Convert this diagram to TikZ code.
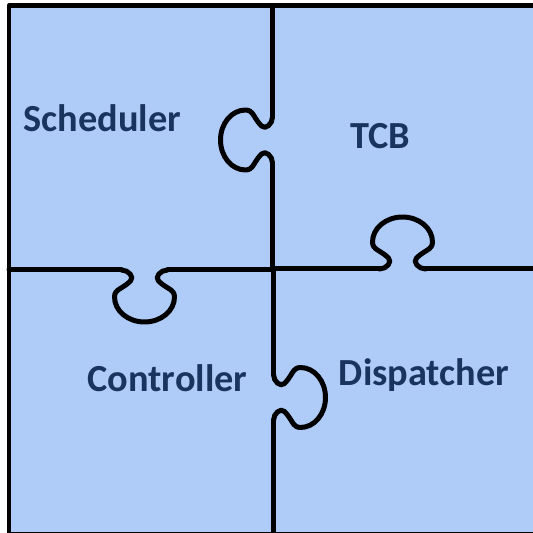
\documentclass[tikz,border=0pt]{standalone}
\usepackage{fontspec}
\setmainfont{Carlito}

\definecolor{piecefill}{RGB}{175,203,247}
\definecolor{labelblue}{RGB}{26,52,96}

\begin{document}
\begin{tikzpicture}[
          x=0.1mm, y=0.1mm,
          puzzleline/.style={line width=0.5mm, line cap=round, line join=round},
          label/.style={font=\bfseries\fontsize{10.9}{12}\selectfont, text=labelblue},
          knob/.pic={
            \draw[puzzleline] (-23,0) .. controls (-16,0) and (-10,7) .. (-14,11)
              .. controls (-22,19) and (-30,19) .. (-30,27)
              .. controls (-30,40.8) and (-16.6,52) .. (0,52)
              .. controls (16.6,52) and (30,40.8) .. (30,27)
              .. controls (30,19) and (22,19) .. (14,11)
              .. controls (10,7) and (16,0) .. (23,0);
          }
        ]
        \useasboundingbox (0,0) rectangle (533,533);

        % Background of the four pieces
        \fill[piecefill] (9,0) rectangle (533,527);

        % Outer border
        \draw[puzzleline] (533,527) -- (9,527) -- (9,-1.2) -- (533,-1.2);

        % Upper seam, tab into Scheduler
        \draw[puzzleline] (272.5,527) -- (272.5,416) (272.5,370) -- (272.5,263);
        \pic[rotate=90] at (272.5,393) {knob};

        % Right seam, tab into TCB
        \draw[puzzleline] (273,264) -- (379.5,264) (425.5,264) -- (533,264);
        \pic at (402.5,264) {knob};

        % Left seam, tab into Controller
        \draw[puzzleline] (9,263) -- (121.5,263) (167.5,263) -- (273,263);
        \pic[rotate=180] at (144.5,263) {knob};

        % Lower seam, tab into Dispatcher
        \draw[puzzleline] (273.5,263) -- (273.5,158.5) (273.5,112.5) -- (273.5,-1.2);
        \pic[rotate=-90] at (273.5,135.5) {knob};

        % Piece names
        \node[label] (scheduler) at (102.5,415) {Scheduler};
        \node[label] (tcb) at (380,397) {TCB};
        \node[label] (controller) at (167.5,155) {Controller};
        \node[label] (dispatcher) at (424,158) {Dispatcher};

      \end{tikzpicture}
\end{document}
